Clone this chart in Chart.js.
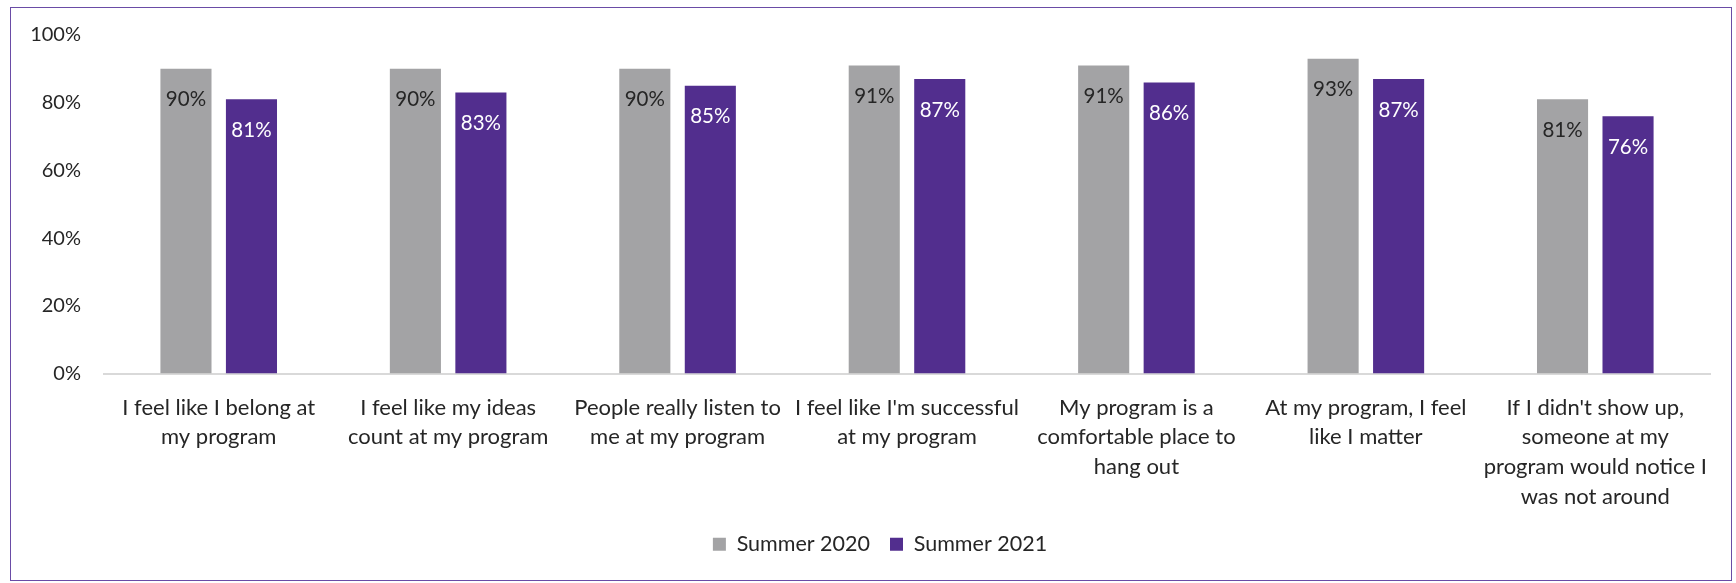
<!DOCTYPE html>
<html>
<head>
<meta charset="utf-8">
<script src="https://cdn.jsdelivr.net/npm/chart.js@4.4.1/dist/chart.umd.min.js"></script>
<style>
  html, body { margin: 0; padding: 0; background: #fff; }
  #frame { position: absolute; left: 10px; top: 7px; width: 1722px; height: 574px; border: 1.5px solid #6a4ca6; box-sizing: border-box; }
  #wrap { position: absolute; left: 0; top: 0; width: 1736px; height: 583px; }
</style>
</head>
<body>
<div id="frame"></div>
<div id="wrap"><canvas id="chart"></canvas></div>
<script>
// --- Data ---
const categories = [
  ["I feel like I belong at", "my program"],
  ["I feel like my ideas", "count at my program"],
  ["People really listen to", "me at my program"],
  ["I feel like I'm successful", "at my program"],
  ["My program is a", "comfortable place to", "hang out"],
  ["At my program, I feel", "like I matter"],
  ["If I didn't show up,", "someone at my", "program would notice I", "was not around"]
];
const summer2020 = [90, 90, 90, 91, 91, 93, 81];
const summer2021 = [81, 83, 85, 87, 86, 87, 76];
const yTicks = [0, 20, 40, 60, 80, 100];

const FONT = "Lato, 'Open Sans', sans-serif";

// --- Value labels inside bar tops ---
const valueLabels = {
  id: "valueLabels",
  afterDatasetsDraw(chart) {
    const ctx = chart.ctx;
    ctx.save();
    ctx.font = "20.5px " + FONT;
    ctx.textAlign = "center";
    ctx.textBaseline = "middle";
    chart.data.datasets.forEach((ds, i) => {
      const meta = chart.getDatasetMeta(i);
      ctx.fillStyle = ds.labelColor;
      meta.data.forEach((bar, j) => {
        ctx.fillText(ds.data[j] + "%", bar.x, bar.y + ds.labelOffset);
      });
    });
    ctx.restore();
  }
};

// legend sits a bit right of the page centre in the original
const legendShift = {
  id: "legendShift",
  afterLayout(chart) {
    chart.legend.left += 25;
    chart.legend.right += 25;
  }
};

new Chart(document.getElementById("chart"), {
  type: "bar",
  data: {
    labels: categories,
    datasets: [
      { label: "Summer 2020", data: summer2020, backgroundColor: "#a3a3a5", labelColor: "#262626", labelOffset: 31 },
      { label: "Summer 2021", data: summer2021, backgroundColor: "#522e8e", labelColor: "#ffffff", labelOffset: 31 }
    ]
  },
  options: {
    responsive: true,
    maintainAspectRatio: false,
    animation: false,
    categoryPercentage: 0.571,
    barPercentage: 0.78,
    layout: { padding: { left: 0, right: 26, top: 35, bottom: 18 } },
    plugins: {
      legend: {
        position: "bottom",
        labels: { boxWidth: 13, boxHeight: 13, padding: 20, color: "#262626", font: { family: FONT, size: 21.5 } }
      },
      tooltip: { enabled: false }
    },
    scales: {
      x: {
        grid: { display: false, drawTicks: false },
        border: { display: true, color: "#d9d9d9", width: 2 },
        ticks: { color: "#262626", padding: 19, maxRotation: 0, autoSkip: false, font: { family: FONT, size: 22, lineHeight: 1.36 } },
        afterFit(s) { s.height = 140; }
      },
      y: {
        min: 0, max: 100,
        afterBuildTicks(s) { s.ticks = yTicks.map(v => ({ value: v })); },
        afterFit(s) { s.width = 104; },
        grid: { display: false, drawTicks: false },
        border: { display: false },
        ticks: { color: "#262626", padding: 23, callback: v => v + "%", font: { family: FONT, size: 20 } }
      }
    }
  },
  plugins: [valueLabels, legendShift]
});
</script>
</body>
</html>
